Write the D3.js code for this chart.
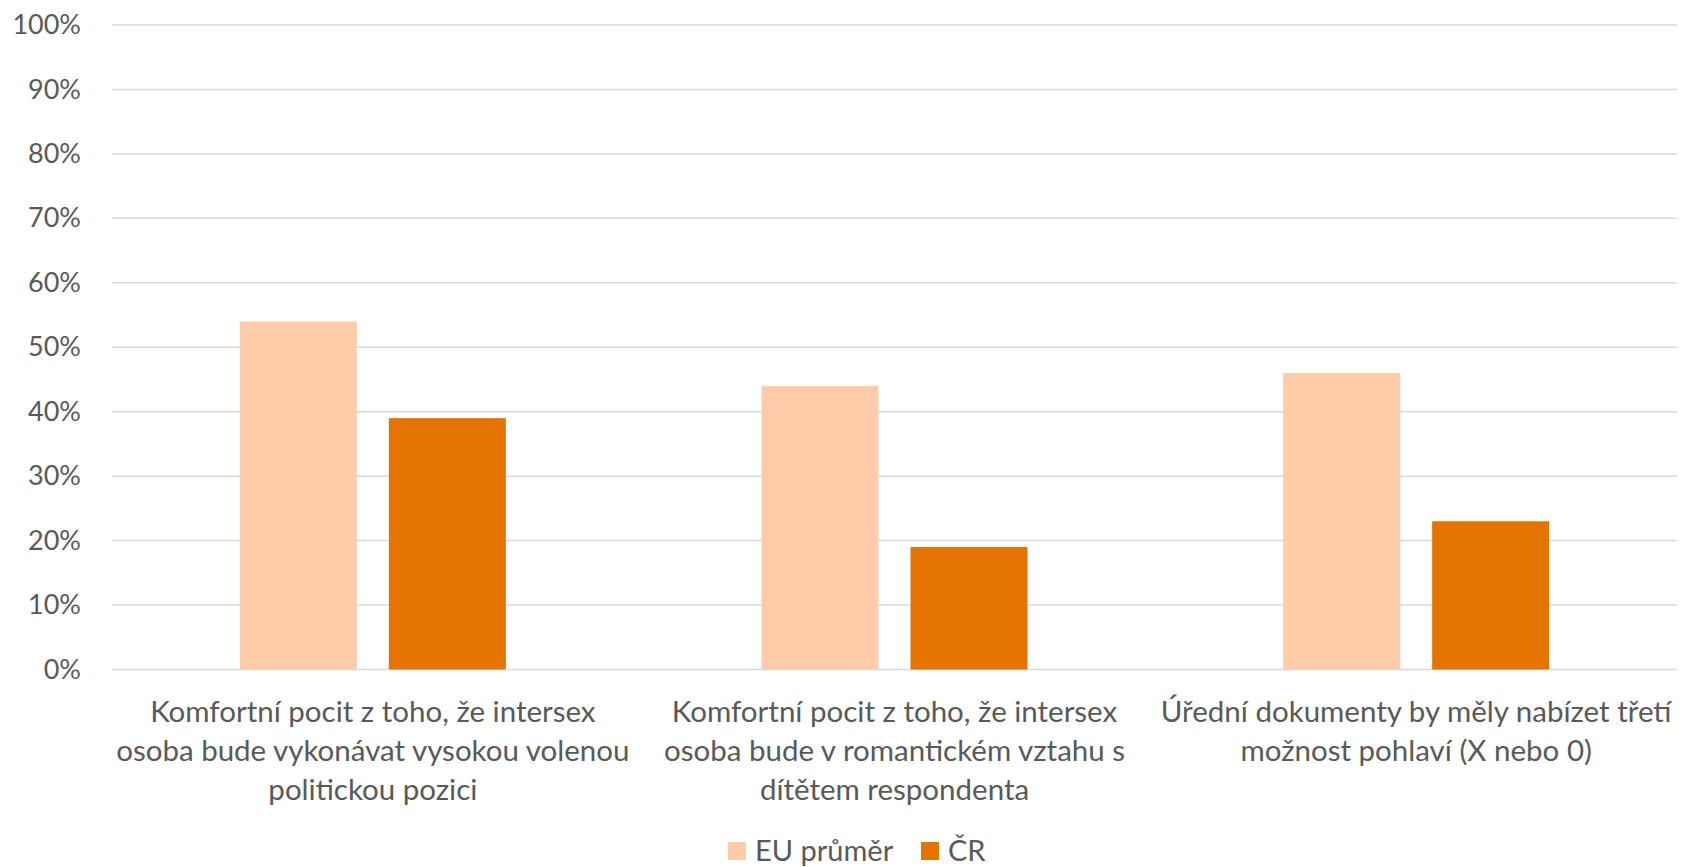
<!DOCTYPE html>
<html>
<head>
<meta charset="utf-8">
<script src="https://cdn.jsdelivr.net/npm/d3@7"></script>
<style>
  html, body { margin: 0; padding: 0; background: #fff; }
  svg { display: block; }
  text { font-family: Lato, "Open Sans", sans-serif; fill: #595959; }
</style>
</head>
<body>
<svg id="chart" width="1682" height="867"></svg>
<script>
// ---- data ----
const categories = [
  ["Komfortní pocit z toho, že intersex", "osoba bude vykonávat vysokou volenou", "politickou pozici"],
  ["Komfortní pocit z toho, že intersex", "osoba bude v romantickém vztahu s", "dítětem respondenta"],
  ["Úřední dokumenty by měly nabízet třetí", "možnost pohlaví (X nebo 0)"]
];
const seriesNames = ["EU průměr", "ČR"];
const euValues = [0.54, 0.44, 0.46];
const crValues = [0.39, 0.19, 0.23];
const yTicks = [0, 0.1, 0.2, 0.3, 0.4, 0.5, 0.6, 0.7, 0.8, 0.9, 1.0];

// ---- layout ----
const W = 1682, H = 867;
const margin = { left: 112, right: 5, top: 25, bottom: 197.5 };
const colors = ["#FFCBA9", "#E57300"];
const yFont = 27, xFont = 29.5, legendFont = 29;

const svg = d3.select("#chart");
const plotW = W - margin.left - margin.right;
const plotH = H - margin.top - margin.bottom;
const g = svg.append("g").attr("transform", `translate(${margin.left},${margin.top})`);

const x0 = d3.scaleBand().domain(d3.range(categories.length)).range([0, plotW]).paddingInner(0).paddingOuter(0);
const groupFrac = 266 / 521.7;
const x1 = d3.scaleBand().domain(d3.range(seriesNames.length))
  .range([(1 - groupFrac) / 2 * x0.bandwidth(), (1 + groupFrac) / 2 * x0.bandwidth()])
  .paddingInner(32 / 149).paddingOuter(0);
const y = d3.scaleLinear().domain([0, 1]).range([plotH, 0]);

// gridlines
g.append("g").selectAll("line").data(yTicks).join("line")
  .attr("x1", 0).attr("x2", plotW)
  .attr("y1", d => y(d)).attr("y2", d => y(d))
  .attr("stroke", "#D9D9D9").attr("stroke-width", 1.5);

// y axis labels
const yAxis = d3.axisLeft(y).tickValues(yTicks).tickFormat(d3.format(".0%")).tickSize(0).tickPadding(31);
const ya = g.append("g").call(yAxis);
ya.select(".domain").remove();
ya.selectAll("text").attr("font-size", yFont).style("fill", "#595959").attr("font-family", "Lato, sans-serif");

// bars
const data = categories.map((c, i) => [euValues[i], crValues[i]]);
const groups = g.append("g").selectAll("g").data(data).join("g")
  .attr("transform", (d, i) => `translate(${x0(i)},0)`);
groups.selectAll("rect").data(d => d).join("rect")
  .attr("x", (d, j) => x1(j))
  .attr("width", x1.bandwidth())
  .attr("y", d => y(d))
  .attr("height", d => plotH - y(d))
  .attr("fill", (d, j) => colors[j]);

// x labels
const lineH = 39;
const xl = g.append("g").selectAll("text").data(categories).join("text")
  .attr("text-anchor", "middle")
  .attr("font-size", xFont)
  .attr("transform", (d, i) => `translate(${x0(i) + x0.bandwidth() / 2},${plotH + 42})`);
xl.selectAll("tspan").data(d => d).join("tspan")
  .attr("x", 0)
  .attr("y", (d, k) => k * lineH)
  .attr("dy", "0.35em")
  .text(d => d);

// legend
const legend = svg.append("g").attr("transform", `translate(0, 851)`);
const legendX = [728, 921];
seriesNames.forEach((name, j) => {
  legend.append("rect").attr("x", legendX[j]).attr("y", -9).attr("width", 18).attr("height", 18).attr("fill", colors[j]);
  legend.append("text").attr("x", legendX[j] + 27).attr("y", 0).attr("dy", "0.35em")
    .attr("font-size", legendFont).text(name);
});
</script>
</body>
</html>
